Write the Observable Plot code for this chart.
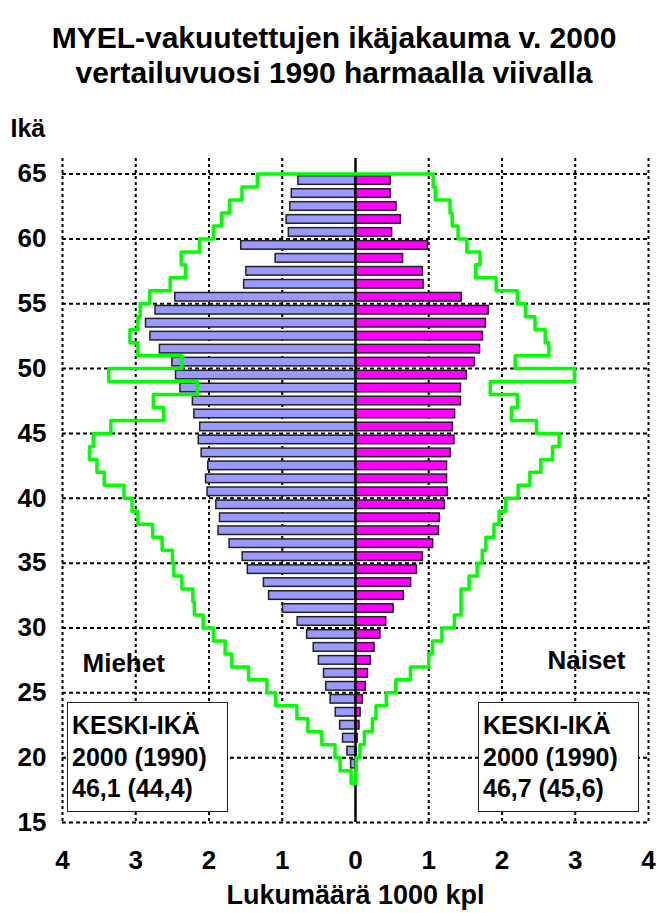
<!DOCTYPE html>
<html><head><meta charset="utf-8">
<script src="https://cdn.jsdelivr.net/npm/d3@7"></script>
<script src="https://cdn.jsdelivr.net/npm/@observablehq/plot@0.6"></script>
<style>
body{margin:0;background:#fff;font-family:"Liberation Sans",Arial,sans-serif;}
#wrap{position:relative;width:658px;height:913px;overflow:hidden;}
#title{height:100px;box-sizing:border-box;padding-top:20px;padding-left:10px;text-align:center;font-weight:bold;font-size:30px;line-height:35px;}
.box{position:absolute;top:702px;height:110px;width:161px;border:1.5px solid #222;background:#fff;box-sizing:border-box;padding:7px 0 0 4px;font-weight:bold;font-size:25px;line-height:31.5px;white-space:nowrap;}
</style></head><body>
<div id="wrap">
<div id="title"></div>
<div id="chart"></div>
<div class="box" id="boxM" style="left:67px"></div>
<div class="box" id="boxN" style="left:478px"></div>
</div>
<script>
const titleLines = ["MYEL-vakuutettujen ikäjakauma v. 2000", "vertailuvuosi 1990 harmaalla viivalla"];
const yTicks = [15, 20, 25, 30, 35, 40, 45, 50, 55, 60, 65];
const xTicks = [-4, -3, -2, -1, 0, 1, 2, 3, 4];
const xLabel = "Lukumäärä 1000 kpl";
const yLabel = "Ikä";
const groupLabels = ["Miehet", "Naiset"];
const boxLines = ["KESKI-IKÄ", "2000 (1990)"];
const meanAgeMen = "46,1 (44,4)";
const meanAgeWomen = "46,7 (45,6)";

// 2000 age bins (lower edge of one-year bin), descending
const ages2000 = [64,63,62,61,60,59,58,57,56,55,54,53,52,51,50,49,48,47,46,45,44,43,42,41,40,39,38,37,36,35,34,33,32,31,30,29,28,27,26,25,24,23,22,21,20,19];
const men2000 = [0.78,0.87,0.89,0.94,0.91,1.56,1.09,1.49,1.52,2.46,2.73,2.86,2.80,2.67,2.50,2.45,2.39,2.22,2.20,2.12,2.14,2.10,2.01,2.04,2.02,1.90,1.85,1.87,1.72,1.54,1.47,1.25,1.18,0.99,0.79,0.66,0.57,0.50,0.43,0.40,0.34,0.27,0.21,0.17,0.11,0.06];
const women2000 = [0.48,0.48,0.56,0.62,0.50,0.99,0.65,0.92,0.93,1.45,1.82,1.78,1.74,1.70,1.63,1.52,1.44,1.44,1.36,1.33,1.35,1.30,1.25,1.25,1.26,1.22,1.15,1.14,1.06,0.92,0.84,0.76,0.66,0.52,0.42,0.34,0.26,0.21,0.17,0.14,0.10,0.07,0.055,0.03,0.015,0.005];

// 1990 comparison (outline)
const ages1990 = [64,63,62,61,60,59,58,57,56,55,54,53,52,51,50,49,48,47,46,45,44,43,42,41,40,39,38,37,36,35,34,33,32,31,30,29,28,27,26,25,24,23,22,21,20,19,18];
const men1990 = [1.34,1.55,1.72,1.83,1.94,2.13,2.38,2.32,2.53,2.81,2.94,2.97,3.08,2.97,2.37,3.37,2.16,2.76,2.62,3.34,3.58,3.63,3.53,3.43,3.16,3.05,2.97,2.77,2.64,2.50,2.48,2.37,2.22,2.20,2.08,1.94,1.78,1.69,1.46,1.21,1.09,0.80,0.65,0.46,0.28,0.21,0.06];
const women1990 = [1.06,1.09,1.29,1.32,1.40,1.52,1.70,1.64,1.92,2.21,2.32,2.45,2.59,2.64,2.18,2.99,1.84,2.21,2.13,2.47,2.78,2.69,2.53,2.38,2.22,2.05,1.96,1.89,1.78,1.73,1.66,1.55,1.44,1.44,1.35,1.18,1.05,1.00,0.75,0.55,0.42,0.28,0.23,0.12,0.06,0.01,0.0];

document.getElementById("title").innerHTML = titleLines.join("<br>");
document.getElementById("boxM").innerHTML = [...boxLines, meanAgeMen].join("<br>");
document.getElementById("boxN").innerHTML = [...boxLines, meanAgeWomen].join("<br>");

const data2000 = ages2000.map((a, i) => ({age: a, men: men2000[i], women: women2000[i]}));
const outline = [];
ages1990.forEach((a, i) => { outline.push({x: -men1990[i], y: a + 1}); outline.push({x: -men1990[i], y: a}); });
for (let i = ages1990.length - 1; i >= 0; i--) { const a = ages1990[i]; outline.push({x: women1990[i], y: a}); outline.push({x: women1990[i], y: a + 1}); }
outline.push(outline[0]);

const chart = Plot.plot({
  width: 658, height: 813,
  marginTop: 58, marginBottom: 91, marginLeft: 62, marginRight: 10,
  x: {domain: [-4, 4]},
  y: {domain: [15, 66.2]},
  style: {fontFamily: "'Liberation Sans', Arial, sans-serif", fontWeight: "bold", fontSize: "24px", color: "#000", background: "#fff", overflow: "visible"},
  marks: [
    Plot.ruleY(yTicks, {stroke: "#000", strokeWidth: 2, strokeDasharray: "4,3"}),
    Plot.ruleX(xTicks.filter(d => d !== 0), {stroke: "#000", strokeWidth: 2, strokeDasharray: "3,3"}),
    Plot.rectX(data2000, {x1: 0, x2: d => -d.men, y1: "age", y2: d => d.age + 1, insetTop: 2.2, insetBottom: 2.2, fill: "#9999ff", stroke: "#222", strokeWidth: 1.5}),
    Plot.rectX(data2000, {x1: 0, x2: "women", y1: "age", y2: d => d.age + 1, insetTop: 2.2, insetBottom: 2.2, fill: "#ff00ff", stroke: "#222", strokeWidth: 1.5}),
    Plot.ruleX([0], {stroke: "#000", strokeWidth: 2.5}),
    Plot.line(outline, {x: "x", y: "y", stroke: "#00ff00", strokeWidth: 3.5}),
    Plot.axisY(yTicks, {tickSize: 0, tickPadding: 16, label: null, fontSize: 26, fontWeight: "bold"}),
    Plot.axisX(xTicks, {tickSize: 0, tickPadding: 28, tickFormat: d => Math.abs(d), label: null, fontSize: 26, fontWeight: "bold"}),
    Plot.text([xLabel], {text: d => d, frameAnchor: "bottom", dy: 81, fontSize: 27, fontWeight: "bold"}),
    Plot.text([yLabel], {text: d => d, frameAnchor: "top-left", dx: -52, dy: -39, textAnchor: "start", fontSize: 25, fontWeight: "bold"}),
    Plot.text([groupLabels[0]], {text: d => d, frameAnchor: "bottom-left", dx: 20, dy: -151, textAnchor: "start", fontSize: 26, fontWeight: "bold"}),
    Plot.text([groupLabels[1]], {text: d => d, frameAnchor: "bottom-right", dx: -23, dy: -154, textAnchor: "end", fontSize: 26, fontWeight: "bold"})
  ]
});
document.getElementById("chart").appendChild(chart);
</script>
</body></html>
